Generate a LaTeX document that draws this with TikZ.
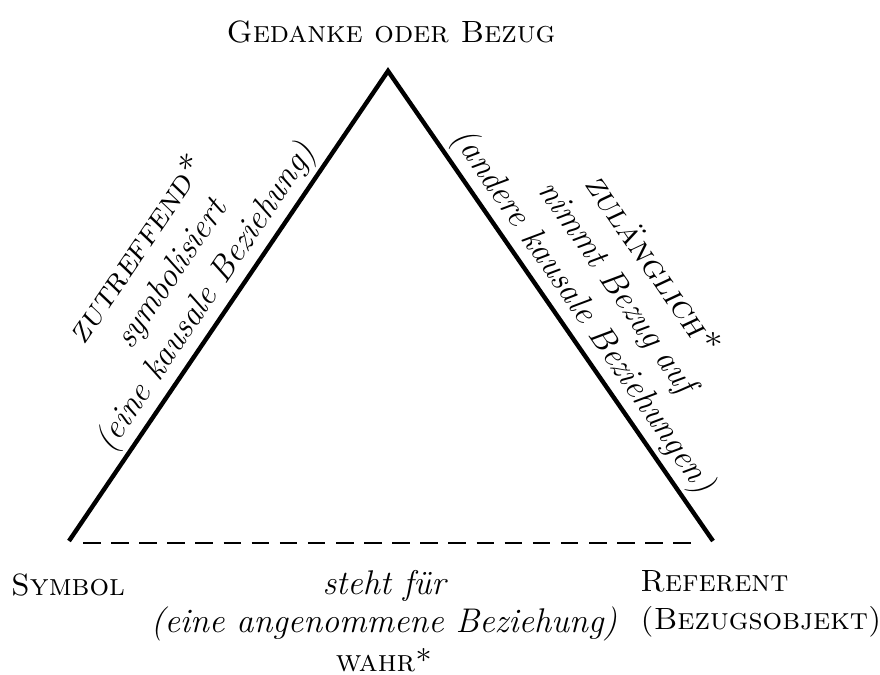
\documentclass[tikz,border=0pt]{standalone}
\usepackage{fontspec}
\usepackage{tikz}
\usetikzlibrary{positioning,calc}

\begin{document}
\begin{tikzpicture}[x=0.02cm,y=-0.02cm,
    edge/.style={line width=2.5pt, line join=miter},
    basedash/.style={line width=1.5pt, dash pattern=on 10pt off 6pt},
    cornerlabel/.style={font=\fontsize{17.5}{22}\selectfont\scshape},
    edgelabel/.style={font=\fontsize{19.5}{23.5}\selectfont\itshape, align=center, sloped, above, inner sep=2pt}]
    \useasboundingbox (0,0) rectangle (880,675);
    % Corners
    \coordinate (apex) at (388,71);
    \coordinate (symb) at (69,541);
    \coordinate (refc) at (713,541);
    % Sides
    \draw[edge] (symb) -- node[edgelabel, pos=0.49] {\textsc{zutreffend*}\\symbolisiert\\(eine kausale Beziehung)} (apex)
        -- node[edgelabel, pos=0.54] {\textsc{zulänglich*}\\nimmt Bezug auf\\(andere kausale Beziehungen)} (refc);
    % Base
    \draw[basedash] ($(symb)+(14,2)$) -- ($(refc)+(-18,2)$);
    % Labels
    \node[cornerlabel] (thought) at (391,32) {Gedanke oder Bezug};
    \node[cornerlabel] (symbol) at (68,585) {Symbol};
    \node[cornerlabel, align=left, anchor=west, inner sep=0pt] (referent) at (640,604) {Referent\\(Bezugsobjekt)};
    \node[font=\fontsize{19.5}{22}\selectfont, align=center, inner sep=0pt] (standsfor) at (384,621) {\itshape steht für\\\itshape(eine angenommene Beziehung)\\\fontsize{17.5}{22}\selectfont\textsc{wahr*}};
\end{tikzpicture}
\end{document}
